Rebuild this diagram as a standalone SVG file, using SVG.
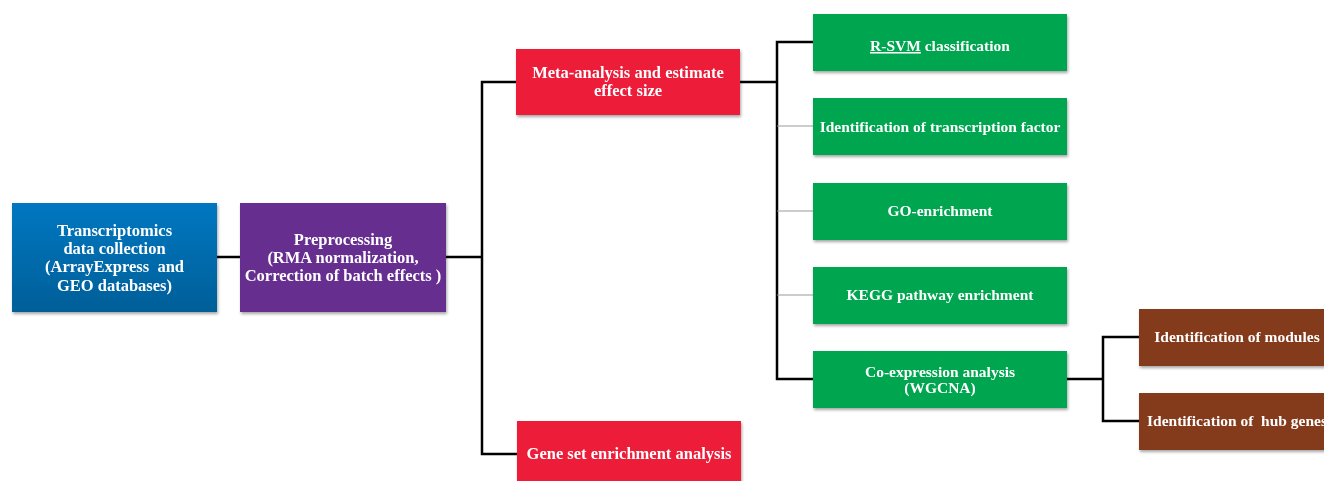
<svg xmlns="http://www.w3.org/2000/svg" width="1324" height="481" viewBox="0 0 1324 481">
<style>
.t{font-family:"Liberation Serif","Times New Roman",serif;font-weight:bold;font-size:15.5px;fill:#ffffff;text-anchor:middle;white-space:pre}
.L{font-size:16.5px}
.c{fill:none;stroke:#000;stroke-width:2.5}
.g{fill:none;stroke:#999;stroke-width:1}
.box{filter:url(#sh)}
</style>
<defs>
<linearGradient id="blue" x1="0" y1="0" x2="0" y2="1">
<stop offset="0" stop-color="#0077c1"/>
<stop offset="1" stop-color="#005f98"/>
</linearGradient>
<filter id="sh" x="-5%" y="-10%" width="115%" height="130%">
<feDropShadow dx="1" dy="2" stdDeviation="1.5" flood-color="#000" flood-opacity="0.35"/>
</filter>
</defs>
<rect width="1324" height="481" fill="#fff"/>
<g id="connectors">
<path class="c" d="M217,257 H240"/>
<path class="c" d="M446,257 H482"/>
<path class="c" d="M516,82 H482 V454 H517"/>
<path class="c" d="M740,82 H777"/>
<path class="c" d="M813,42 H777 V379 H813"/>
<path class="g" d="M777,126 H813 M777,211 H813 M777,295 H813"/>
<path class="c" d="M1067,379 H1103"/>
<path class="c" d="M1139,337 H1103 V421 H1139"/>
</g>
<g id="n1" class="box"><rect x="12" y="203" width="205" height="109" fill="url(#blue)"/>
<text class="t L" x="114.5" y="236">Transcriptomics</text>
<text class="t L" x="114.5" y="254">data collection</text>
<text class="t L" x="114.5" y="272" xml:space="preserve">(ArrayExpress  and</text>
<text class="t L" x="114.5" y="291">GEO databases)</text></g>
<g id="n2" class="box"><rect x="240" y="203" width="206" height="109" fill="#662d8f"/>
<text class="t L" x="343" y="245">Preprocessing</text>
<text class="t L" x="343" y="263">(RMA normalization,</text>
<text class="t L" x="343" y="281">Correction of batch effects )</text></g>
<g id="n3" class="box"><rect x="516" y="49" width="224" height="66" fill="#ed1b39"/>
<text class="t L" x="628" y="78">Meta-analysis and estimate</text>
<text class="t L" x="628" y="96">effect size</text></g>
<g id="n4" class="box"><rect x="517" y="421" width="224" height="66" fill="#ed1b39"/>
<text class="t L" x="629" y="459">Gene set enrichment analysis</text></g>
<g id="n5" class="box"><rect x="813" y="14" width="254" height="57" fill="#00a54f"/>
<text class="t" x="940" y="51"><tspan text-decoration="underline">R-SVM</tspan> classification</text></g>
<g id="n6" class="box"><rect x="813" y="98" width="254" height="57" fill="#00a54f"/>
<text class="t" x="940" y="132">Identification of transcription factor</text></g>
<g id="n7" class="box"><rect x="813" y="183" width="254" height="57" fill="#00a54f"/>
<text class="t" x="940" y="216">GO-enrichment</text></g>
<g id="n8" class="box"><rect x="813" y="267" width="254" height="57" fill="#00a54f"/>
<text class="t" x="940" y="300">KEGG pathway enrichment</text></g>
<g id="n9" class="box"><rect x="813" y="351" width="254" height="57" fill="#00a54f"/>
<text class="t" x="940" y="377">Co-expression analysis</text>
<text class="t" x="940" y="393">(WGCNA)</text></g>
<g id="n10" class="box"><rect x="1139" y="309" width="200" height="57" fill="#843a1b"/>
<text class="t" x="1237" y="342">Identification of modules</text></g>
<g id="n11" class="box"><rect x="1139" y="393" width="200" height="57" fill="#843a1b"/>
<text class="t" x="1237" y="426" xml:space="preserve">Identification of  hub genes</text></g>
</svg>
